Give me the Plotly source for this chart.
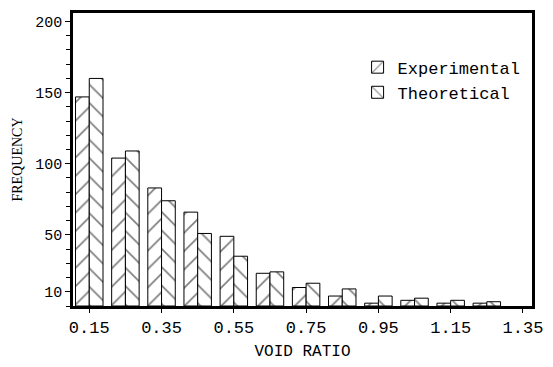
import plotly.graph_objects as go

void_ratio = [0.15, 0.25, 0.35, 0.45, 0.55, 0.65, 0.75, 0.85, 0.95, 1.05, 1.15, 1.25]
experimental = [147, 104, 83, 66, 49, 23, 13, 7, 2, 4, 2, 2]
theoretical = [160, 109, 74, 51, 35, 24, 16, 12, 7, 5.5, 4, 3]
x_ticks = [0.15, 0.35, 0.55, 0.75, 0.95, 1.15, 1.35]
x_tick_labels = ["0.15", "0.35", "0.55", "0.75", "0.95", "1.15", "1.35"]
y_ticks = [10, 50, 100, 150, 200]
y_tick_labels = ["10", "50", "100", "150", "200"]

fig = go.Figure()
fig.add_trace(go.Bar(
    x=void_ratio, y=experimental, name="Experimental",
    marker=dict(color="white", line=dict(color="black", width=1),
                pattern=dict(shape="/", fgcolor="black", bgcolor="white", size=13, solidity=0.13)),
))
fig.add_trace(go.Bar(
    x=void_ratio, y=theoretical, name="Theoretical",
    marker=dict(color="white", line=dict(color="black", width=1),
                pattern=dict(shape="\\", fgcolor="black", bgcolor="white", size=13, solidity=0.13)),
))

fig.update_layout(
    width=553, height=367,
    margin=dict(l=73, r=10, t=10, b=54),
    paper_bgcolor="white", plot_bgcolor="white",
    barmode="group", bargap=0.24, bargroupgap=0,
    font=dict(family="Liberation Mono", color="black"),
    legend=dict(x=0.62, y=0.875, xanchor="left", yanchor="top",
                bgcolor="rgba(0,0,0,0)", font=dict(family="Liberation Mono", size=17),
                tracegroupgap=0, itemwidth=30),
    showlegend=True,
)
fig.update_xaxes(
    range=[0.105, 1.375], tickvals=x_ticks, ticktext=x_tick_labels,
    tickfont=dict(family="Liberation Mono", size=17),
    ticks="outside", ticklen=4, tickcolor="black",
    showline=True, linecolor="black", linewidth=2.5, mirror=True,
    showgrid=False, zeroline=False,
    title=dict(text="VOID RATIO", font=dict(family="Liberation Mono", size=16), standoff=8),
)
fig.update_yaxes(
    range=[0, 206], tickvals=y_ticks, ticktext=y_tick_labels,
    tickfont=dict(family="Liberation Mono", size=15),
    ticks="outside", ticklen=5, tickcolor="black",
    minor=dict(dtick=10, tick0=0, ticks="outside", ticklen=4, tickcolor="black"),
    showline=True, linecolor="black", linewidth=2.5, mirror=True,
    showgrid=False, zeroline=False,
    title=dict(text="FREQUENCY", font=dict(family="Liberation Serif", size=14), standoff=10),
)

fig.write_html("out.html")
